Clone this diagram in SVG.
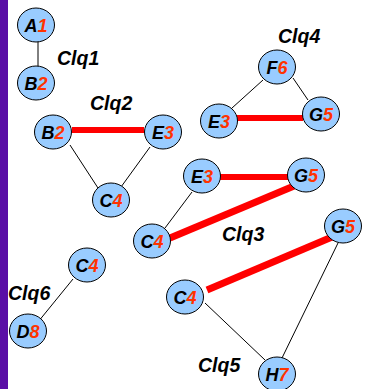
<svg xmlns="http://www.w3.org/2000/svg" width="376" height="389" viewBox="0 0 376 389">
<style>
.n{fill:#99ccff;stroke:#000;stroke-width:1}
.t{font-family:"Liberation Sans",Arial,sans-serif;font-weight:bold;font-style:italic;font-size:18px;text-anchor:middle}
.d{fill:#ff3300}
.lbl{font-family:"Liberation Sans",Arial,sans-serif;font-weight:bold;font-style:italic;font-size:19.5px}
.e{stroke:#000;stroke-width:1;fill:none}
.r{stroke:#ff0000;stroke-width:6;fill:none}
.r2{stroke:#ff0000;stroke-width:7;fill:none}
</style>
<rect width="376" height="389" fill="#ffffff"/>
<rect x="0" y="0" width="8" height="389" fill="#5a0ea6"/>
<g id="connectors">
<line class="e" x1="38" y1="40" x2="38" y2="68"/>
<line class="r" x1="72" y1="130" x2="144" y2="130"/>
<line class="e" x1="70" y1="145" x2="98" y2="188"/>
<line class="e" x1="150" y1="147" x2="121" y2="187"/>
<line class="e" x1="263" y1="80" x2="232" y2="108"/>
<line class="e" x1="293" y1="78" x2="308" y2="100"/>
<line class="r" x1="237" y1="118" x2="303" y2="118"/>
<line class="r" x1="220" y1="177" x2="288" y2="177"/>
<line class="r2" x1="170" y1="238" x2="294" y2="186"/>
<line class="e" x1="192" y1="192" x2="165" y2="228"/>
<line class="r2" x1="207" y1="290" x2="332" y2="237"/>
<line class="e" x1="205" y1="303" x2="265" y2="360"/>
<line class="e" x1="338" y1="243" x2="282" y2="358"/>
<line class="e" x1="73" y1="279" x2="38" y2="322"/>
</g>
<g id="A1"><ellipse class="n" cx="36" cy="25" rx="18.5" ry="17"/><text class="t" x="36" y="31.5">A<tspan class="d">1</tspan></text></g>
<g id="B2a"><ellipse class="n" cx="36" cy="83" rx="18.5" ry="17"/><text class="t" x="36" y="89.5">B<tspan class="d">2</tspan></text></g>
<text class="lbl" x="57" y="65">Clq1</text>
<g id="B2b"><ellipse class="n" cx="53" cy="132" rx="18.5" ry="17"/><text class="t" x="53" y="138.5">B<tspan class="d">2</tspan></text></g>
<g id="E3a"><ellipse class="n" cx="163" cy="132" rx="18.5" ry="17"/><text class="t" x="163" y="138.5">E<tspan class="d">3</tspan></text></g>
<g id="C4a"><ellipse class="n" cx="111" cy="200" rx="18.5" ry="17"/><text class="t" x="111" y="206.5">C<tspan class="d">4</tspan></text></g>
<text class="lbl" x="90" y="110">Clq2</text>
<g id="F6"><ellipse class="n" cx="277" cy="67" rx="18.5" ry="17"/><text class="t" x="277" y="73.5">F<tspan class="d">6</tspan></text></g>
<g id="E3b"><ellipse class="n" cx="219" cy="121" rx="18.5" ry="17"/><text class="t" x="219" y="127.5">E<tspan class="d">3</tspan></text></g>
<g id="G5a"><ellipse class="n" cx="321" cy="114" rx="18.5" ry="17"/><text class="t" x="321" y="120.5">G<tspan class="d">5</tspan></text></g>
<text class="lbl" x="278" y="43">Clq4</text>
<g id="E3c"><ellipse class="n" cx="202" cy="176" rx="18.5" ry="17"/><text class="t" x="202" y="182.5">E<tspan class="d">3</tspan></text></g>
<g id="G5b"><ellipse class="n" cx="306" cy="175" rx="18.5" ry="17"/><text class="t" x="306" y="181.5">G<tspan class="d">5</tspan></text></g>
<g id="C4b"><ellipse class="n" cx="152" cy="241" rx="18.5" ry="17"/><text class="t" x="152" y="247.5">C<tspan class="d">4</tspan></text></g>
<text class="lbl" x="222" y="241">Clq3</text>
<g id="G5c"><ellipse class="n" cx="343" cy="226" rx="18.5" ry="17"/><text class="t" x="343" y="232.5">G<tspan class="d">5</tspan></text></g>
<g id="C4c"><ellipse class="n" cx="185" cy="297" rx="18.5" ry="17"/><text class="t" x="185" y="303.5">C<tspan class="d">4</tspan></text></g>
<g id="H7"><ellipse class="n" cx="277" cy="374" rx="18.5" ry="17"/><text class="t" x="277" y="380.5">H<tspan class="d">7</tspan></text></g>
<text class="lbl" x="198" y="372">Clq5</text>
<g id="C4d"><ellipse class="n" cx="87" cy="265" rx="18.5" ry="17"/><text class="t" x="87" y="271.5">C<tspan class="d">4</tspan></text></g>
<g id="D8"><ellipse class="n" cx="28" cy="331" rx="18.5" ry="17"/><text class="t" x="28" y="337.5">D<tspan class="d">8</tspan></text></g>
<text class="lbl" x="8" y="300">Clq6</text>
</svg>
